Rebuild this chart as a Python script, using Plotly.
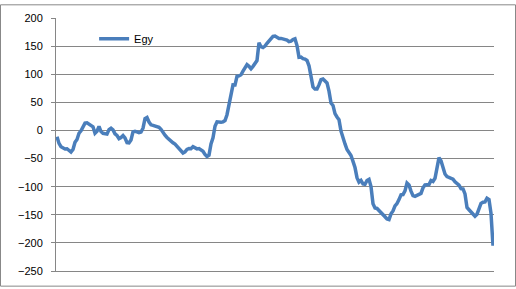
import plotly.graph_objects as go

series_name = "Egy"
tick_vals = [200, 150, 100, 50, 0, -50, -100, -150, -200, -250]

seg1 = [-11, -23, -29, -32, -33, -32.5, -36, -38.5, -34, -21, -16, -5, -0.5, 6, 13, 13.5,
        11, 10, 6.5, -5, -1.5, 7, -2, -5, -5, -6.5, 1.5, 4, 1, -6, -9, -14.5, -12.5, -9,
        -13.5, -21.5, -22, -17, -2.5, -1.5, -2.5, -4, -3, 4, 21, 23, 15, 10, 9, 8, 7.5,
        5.5, 2, -4, -8.5, -12.5, -16, -20.5]
seg2 = [-22, -24.4, -28, -31.5, -35.5, -40, -38, -33.7, -32, -32.5, -28.8, -30.5, -32.8,
        -32.3, -34.3, -37, -42.7, -46.4, -44, -24, -13, 7.6, 15.4, 14.7, 14.5, 15.3, 17.5,
        28, 47, 65, 81, 80.8, 96.4, 97, 99, 105.4, 112, 117, 114, 109.7, 114, 120, 124.3,
        156, 149, 147.5, 150, 155, 160, 164.4, 167.4, 168, 165, 163.7, 163.7, 163, 162.3,
        160.8, 158]
seg3 = [158.8, 161.5, 163, 151, 130, 130.5, 127.7, 127, 124.5, 115, 93, 77.5, 73.5, 73.5,
        81, 90.3, 91.5, 88.5, 84.5, 70, 48.8, 44.5, 29.8, 24, 19, -1.3, -15, -24, -34,
        -39.3, -44.5, -55, -66, -84, -92, -89, -95, -95.8, -89, -87, -99.7, -130.5, -138,
        -138.7, -143, -147, -150.5, -153.5, -157.5, -158.5, -148.3, -143.3, -134.3, -130,
        -123]
seg4 = [-114.5, -114, -107.5, -93.6, -97, -108, -116, -117.3, -116, -114.5, -112, -102,
        -97, -96.5, -96.3, -89, -90.7, -85, -63, -48.3, -53.8, -64.5, -77.5, -82, -83, -85,
        -86.6, -91.3, -93.8, -97.3, -103.5, -104, -113, -137, -141, -144.3, -148.2, -152.6,
        -149, -137.5, -129.7, -127.7, -127, -120.4, -122.7, -147.4, -205]

values = seg1 + seg2 + seg3 + seg4
categories = list(range(1, len(values) + 1))

fig = go.Figure()
fig.add_trace(go.Scatter(
    x=categories, y=values, mode="lines", name=series_name,
    line=dict(color="#4A7EBB", width=3.5), showlegend=True,
))

n = len(values)
fig.update_layout(
    width=516, height=289,
    margin=dict(l=56, r=22, t=14, b=16),
    paper_bgcolor="white", plot_bgcolor="white",
    font=dict(family="Liberation Sans, Arial, sans-serif", size=11, color="#000000"),
    xaxis=dict(range=[0.5, n + 0.5], showticklabels=False, showgrid=False, zeroline=False,
               showline=True, linecolor="#868686", linewidth=1, ticks=""),
    yaxis=dict(range=[-250, 200], tickvals=tick_vals, showgrid=True, gridcolor="#868686",
               gridwidth=1, zeroline=False, showline=True, linecolor="#868686", linewidth=1,
               ticks="outside", ticklen=4, tickcolor="#868686", ticklabelstandoff=6),
    legend=dict(x=0.087, y=0.918, xanchor="left", yanchor="middle",
                bgcolor="rgba(0,0,0,0)", borderwidth=0, itemwidth=30,
                font=dict(size=11)),
    shapes=[dict(type="rect", xref="paper", yref="paper",
                 x0=-55.5 / 438, x1=(515.5 - 56) / 438,
                 y0=(273 - 288.5) / 259, y1=(273 - 0.5) / 259,
                 line=dict(color="#888888", width=1), fillcolor="rgba(0,0,0,0)",
                 layer="below")],
)

fig.write_html("out.html")
